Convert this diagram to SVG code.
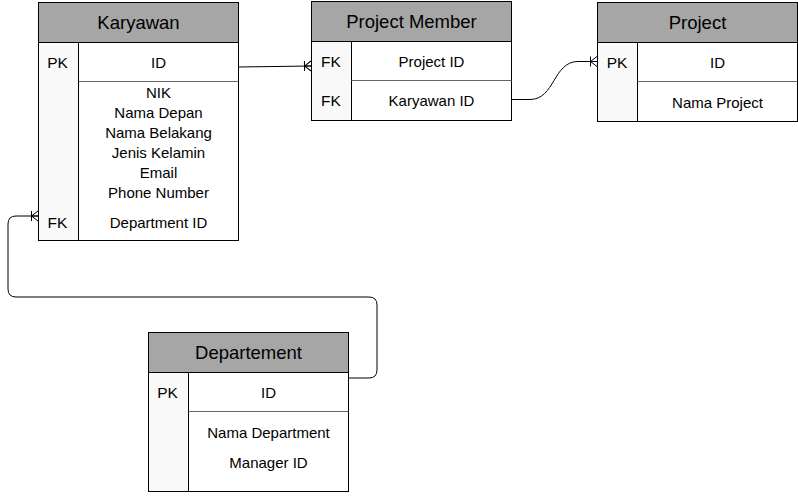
<svg xmlns="http://www.w3.org/2000/svg" width="798" height="500" viewBox="0 0 798 500">
<style>
.hdr{fill:#a6a6a6;stroke:#000;stroke-width:1}
.body{fill:#fff;stroke:#000;stroke-width:1}
.key{fill:#f9f9f9;stroke:#000;stroke-width:1}
.sep{stroke:#666;stroke-width:1}
.t{font-family:"Liberation Sans",Arial,sans-serif;font-size:15px;fill:#000;text-anchor:middle;dominant-baseline:central}
.th{font-family:"Liberation Sans",Arial,sans-serif;font-size:18.5px;fill:#000;text-anchor:middle;dominant-baseline:central}
.k{font-family:"Liberation Sans",Arial,sans-serif;font-size:15.5px;fill:#000;text-anchor:middle;dominant-baseline:central}
.c{fill:none;stroke:#000;stroke-width:1}
</style>
<defs>
<marker id="many" markerWidth="12" markerHeight="12" refX="10" refY="6" orient="auto" markerUnits="userSpaceOnUse" viewBox="0 0 12 12">
<path d="M3.5,1 L3.5,11 M3.5,6 L10,1 M3.5,6 L10,6 M3.5,6 L10,11" fill="none" stroke="#000" stroke-width="1"/>
</marker>
</defs>
<g id="connectors">
<path class="c" d="M238.5,67 L311,66" marker-end="url(#many)"/>
<path class="c" d="M511,99.5 L530,99.5 C555,99.5 553,61.5 578,61.5 L597,61.5" marker-end="url(#many)"/>
<path class="c" d="M348,378 L369,378 Q377,378 377,370 L377,305 Q377,297 369,297 L16,297 Q8,297 8,289 L8,224 Q8,216 16,216 L38,216" marker-end="url(#many)"/>
</g>
<g id="karyawan">
<rect class="hdr" x="38.5" y="2.5" width="200" height="40"/>
<rect class="body" x="38.5" y="42.5" width="200" height="198"/>
<rect class="key" x="38.5" y="42.5" width="40" height="198"/>
<line class="sep" x1="78.5" y1="81.5" x2="238.5" y2="81.5"/>
<text class="th" x="138.5" y="22.5">Karyawan</text>
<text class="k" x="57.5" y="62">PK</text>
<text class="t" x="158.5" y="62">ID</text>
<text class="t" x="158.5" y="92">NIK</text>
<text class="t" x="158.5" y="112">Nama Depan</text>
<text class="t" x="158.5" y="132">Nama Belakang</text>
<text class="t" x="158.5" y="152">Jenis Kelamin</text>
<text class="t" x="158.5" y="172">Email</text>
<text class="t" x="158.5" y="192">Phone Number</text>
<text class="k" x="57.5" y="222">FK</text>
<text class="t" x="158.5" y="222">Department ID</text>
</g>
<g id="project-member">
<rect class="hdr" x="311.5" y="1.5" width="200" height="40"/>
<rect class="body" x="311.5" y="41.5" width="200" height="79"/>
<rect class="key" x="311.5" y="41.5" width="40" height="79"/>
<line class="sep" x1="351.5" y1="80.5" x2="511.5" y2="80.5"/>
<text class="th" x="411.5" y="21.5">Project Member</text>
<text class="k" x="331" y="61">FK</text>
<text class="t" x="431.5" y="61">Project ID</text>
<text class="k" x="331" y="100">FK</text>
<text class="t" x="431.5" y="100">Karyawan ID</text>
</g>
<g id="project">
<rect class="hdr" x="597.5" y="2.5" width="200" height="40"/>
<rect class="body" x="597.5" y="42.5" width="200" height="79"/>
<rect class="key" x="597.5" y="42.5" width="40" height="79"/>
<line class="sep" x1="637.5" y1="81.5" x2="797.5" y2="81.5"/>
<text class="th" x="697.5" y="22.5">Project</text>
<text class="k" x="617" y="62">PK</text>
<text class="t" x="717.5" y="62">ID</text>
<text class="t" x="717.5" y="102">Nama Project</text>
</g>
<g id="departement">
<rect class="hdr" x="148.5" y="332.5" width="200" height="40"/>
<rect class="body" x="148.5" y="372.5" width="200" height="119"/>
<rect class="key" x="148.5" y="372.5" width="40" height="119"/>
<line class="sep" x1="188.5" y1="411.5" x2="348.5" y2="411.5"/>
<text class="th" x="248.5" y="352.5">Departement</text>
<text class="k" x="167.5" y="392">PK</text>
<text class="t" x="268.5" y="392">ID</text>
<text class="t" x="268.5" y="432">Nama Department</text>
<text class="t" x="268.5" y="462">Manager ID</text>
</g>
</svg>
